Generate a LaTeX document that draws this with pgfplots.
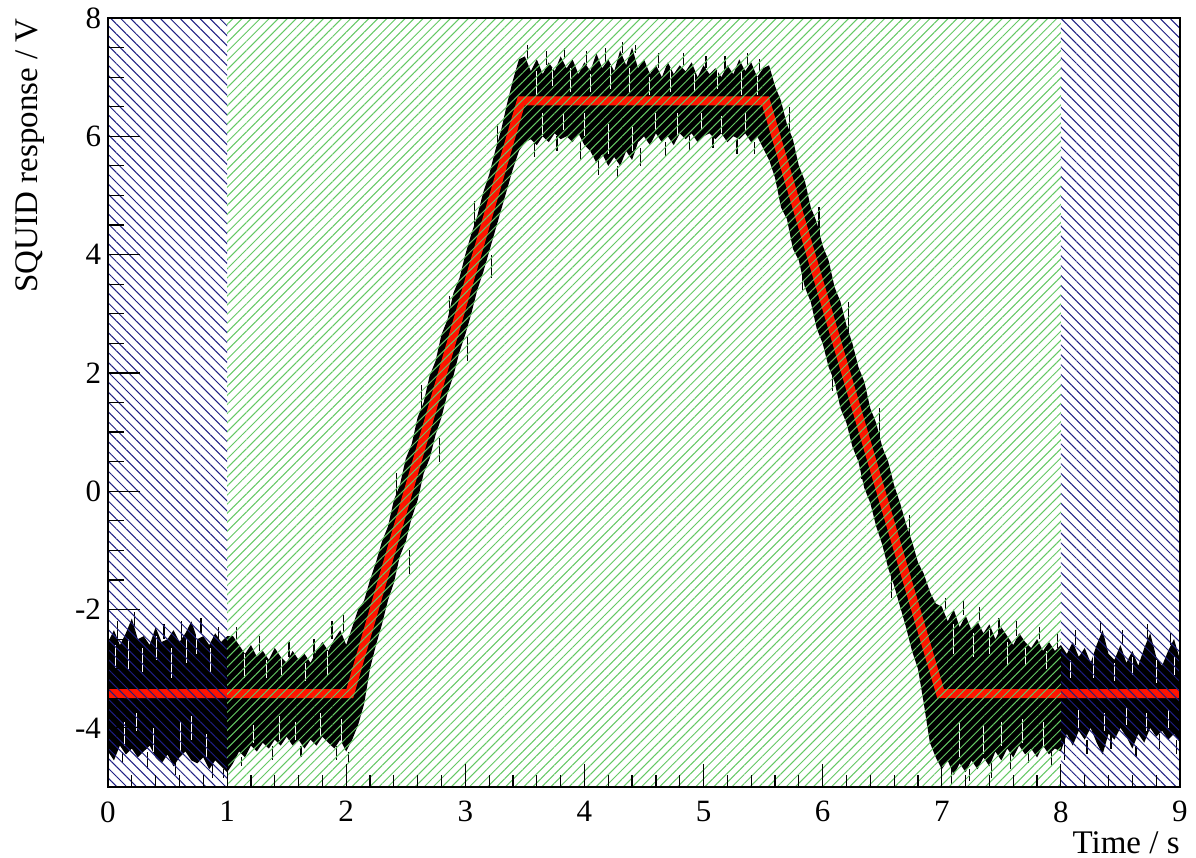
\documentclass[border=0pt]{standalone}
\usepackage{fontspec}
\setmainfont{Liberation Serif}
\usepackage{pgfplots}
\pgfplotsset{compat=1.18}
\usepackage{pgfplotstable}
\usepgfplotslibrary{fillbetween}
\usetikzlibrary{patterns.meta}
\definecolor{hatchblue}{RGB}{30,30,130}
\definecolor{hatchgreen}{RGB}{100,200,100}
\definecolor{fitred}{RGB}{255,20,0}

\pgfplotstableread{
t U L
0.00 -2.55 -4.40
0.05 -2.35 -4.55
0.10 -2.60 -4.30
0.15 -2.40 -4.45
0.20 -2.15 -4.35
0.25 -2.50 -4.50
0.30 -2.45 -4.40
0.35 -2.60 -4.30
0.40 -2.30 -4.50
0.45 -2.55 -4.60
0.50 -2.50 -4.45
0.55 -2.35 -4.65
0.60 -2.55 -4.50
0.65 -2.40 -4.40
0.70 -2.20 -4.55
0.75 -2.50 -4.60
0.80 -2.45 -4.50
0.85 -2.60 -4.70
0.90 -2.40 -4.55
0.95 -2.55 -4.65
1.00 -2.45 -4.75
1.05 -2.45 -4.60
1.10 -2.60 -4.40
1.15 -2.75 -4.50
1.20 -2.60 -4.30
1.25 -2.80 -4.40
1.30 -2.70 -4.25
1.35 -2.85 -4.35
1.40 -2.65 -4.20
1.45 -2.80 -4.30
1.50 -2.90 -4.15
1.55 -2.70 -4.30
1.60 -2.85 -4.20
1.65 -2.75 -4.35
1.70 -2.90 -4.20
1.75 -2.70 -4.30
1.80 -2.55 -4.15
1.85 -2.70 -4.25
1.90 -2.50 -4.35
1.95 -2.35 -4.20
2.00 -2.60 -4.40
2.05 -2.30 -4.20
2.10 -2.00 -3.95
2.15 -1.85 -3.60
2.20 -1.50 -3.00
2.25 -1.20 -2.60
2.30 -0.85 -2.25
2.35 -0.60 -1.85
2.40 -0.15 -1.55
2.45 0.10 -1.10
2.50 0.55 -0.85
2.55 0.80 -0.45
2.60 1.25 -0.15
2.65 1.50 0.30
2.70 1.95 0.55
2.75 2.20 0.95
2.80 2.65 1.25
2.85 2.90 1.65
2.90 3.35 1.95
2.95 3.60 2.35
3.00 4.00 2.65
3.05 4.35 3.00
3.10 4.65 3.40
3.15 5.05 3.70
3.20 5.35 4.05
3.25 5.75 4.40
3.30 6.10 4.75
3.35 6.55 5.10
3.40 6.95 5.45
3.45 7.30 5.75
3.50 7.35 5.90
3.55 7.10 5.95
3.60 7.30 5.85
3.65 7.05 6.00
3.70 7.25 5.90
3.75 7.10 6.05
3.80 7.35 5.95
3.85 7.15 6.00
3.90 7.30 5.90
3.95 7.05 6.05
4.00 7.25 5.85
4.05 7.10 5.75
4.10 7.40 5.55
4.15 7.15 5.70
4.20 7.30 5.50
4.25 7.10 5.65
4.30 7.45 5.50
4.35 7.20 5.75
4.40 7.50 5.60
4.45 7.15 5.90
4.50 7.30 6.00
4.55 7.05 5.85
4.60 7.20 6.05
4.65 7.00 5.90
4.70 7.25 6.00
4.75 7.05 5.85
4.80 7.20 6.05
4.85 7.10 5.95
4.90 7.25 6.05
4.95 7.00 5.90
5.00 7.20 6.00
5.05 7.05 6.05
5.10 7.15 5.95
5.15 7.00 6.05
5.20 7.20 5.90
5.25 7.05 6.00
5.30 7.30 5.95
5.35 7.10 6.05
5.40 7.25 5.90
5.45 7.00 6.00
5.50 7.15 5.80
5.55 7.20 5.60
5.60 6.85 5.30
5.65 6.60 4.80
5.70 6.20 4.60
5.75 5.95 4.10
5.80 5.50 3.90
5.85 5.25 3.45
5.90 4.80 3.20
5.95 4.55 2.75
6.00 4.15 2.50
6.05 3.90 2.10
6.10 3.45 1.85
6.15 3.20 1.40
6.20 2.80 1.15
6.25 2.50 0.75
6.30 2.10 0.50
6.35 1.85 0.05
6.40 1.40 -0.20
6.45 1.15 -0.60
6.50 0.75 -0.90
6.55 0.50 -1.30
6.60 0.10 -1.60
6.65 -0.20 -1.95
6.70 -0.55 -2.30
6.75 -0.85 -2.70
6.80 -1.20 -3.00
6.85 -1.40 -3.60
6.90 -1.70 -4.25
6.95 -1.90 -4.50
7.00 -1.95 -4.70
7.05 -2.20 -4.55
7.10 -2.00 -4.80
7.15 -2.30 -4.60
7.20 -2.10 -4.75
7.25 -2.35 -4.55
7.30 -2.20 -4.70
7.35 -2.40 -4.50
7.40 -2.25 -4.65
7.45 -2.50 -4.40
7.50 -2.30 -4.55
7.55 -2.45 -4.35
7.60 -2.60 -4.50
7.65 -2.40 -4.30
7.70 -2.55 -4.45
7.75 -2.65 -4.35
7.80 -2.50 -4.50
7.85 -2.70 -4.30
7.90 -2.55 -4.45
7.95 -2.70 -4.35
8.00 -2.60 -4.40
8.05 -2.75 -4.10
8.10 -2.55 -4.30
8.15 -2.80 -4.05
8.20 -2.65 -4.20
8.25 -2.90 -4.00
8.30 -2.60 -4.25
8.35 -2.35 -4.45
8.40 -2.75 -4.10
8.45 -2.85 -4.20
8.50 -2.60 -4.00
8.55 -2.90 -4.15
8.60 -2.70 -4.35
8.65 -2.95 -4.10
8.70 -2.65 -4.25
8.75 -2.40 -4.00
8.80 -2.80 -4.15
8.85 -2.95 -4.05
8.90 -2.70 -4.20
8.95 -2.50 -4.10
9.00 -2.85 -4.25
}\datatable

% black error bars sticking out of the band: t, centre, half-length
\pgfplotstableread{
t m e
0.08 -2.35 0.15
0.22 -2.175 0.125
0.47 -2.375 0.125
0.62 -2.35 0.15
0.78 -2.275 0.125
0.93 -2.4 0.1
0.12 -4.5 0.1
0.33 -4.55 0.15
0.57 -4.7 0.1
0.88 -4.725 0.125
0.97 -4.775 0.075
1.08 -2.4 0.1
1.27 -2.575 0.125
1.52 -2.675 0.125
1.73 -2.65 0.15
1.88 -2.35 0.15
1.98 -2.25 0.15
1.12 -4.575 0.075
1.38 -4.425 0.125
1.62 -4.4 0.1
1.92 -4.425 0.125
2.02 -4.5 0.1
2.42 0.0 0.3
2.63 1.5 0.3
2.87 3.05 0.25
3.08 4.6 0.3
3.27 5.9 0.3
2.53 -1.2 0.2
2.78 0.7 0.2
3.02 2.4 0.2
3.22 3.8 0.2
3.52 7.425 0.125
3.68 7.325 0.125
3.83 7.4 0.1
4.02 7.325 0.125
4.18 7.375 0.125
4.32 7.5 0.1
4.43 7.475 0.075
4.62 7.275 0.125
4.83 7.3 0.1
5.02 7.25 0.1
5.18 7.225 0.125
5.37 7.3 0.1
5.47 7.2 0.1
3.58 5.775 0.125
3.77 5.875 0.125
3.97 5.75 0.15
4.12 5.475 0.125
4.28 5.4 0.1
4.47 5.65 0.15
4.68 5.775 0.125
4.88 5.875 0.125
5.08 5.9 0.1
5.28 5.825 0.125
5.43 5.8 0.1
5.72 6.25 0.25
5.97 4.55 0.25
6.22 2.95 0.25
6.48 1.15 0.25
6.73 -0.65 0.25
5.83 3.6 0.2
6.08 1.9 0.2
6.33 0.4 0.2
6.58 -1.6 0.2
7.03 -1.9 0.1
7.18 -1.975 0.125
7.32 -2.075 0.125
7.48 -2.275 0.125
7.63 -2.325 0.125
7.82 -2.4 0.1
7.97 -2.525 0.125
7.08 -4.825 0.125
7.23 -4.8 0.1
7.42 -4.725 0.125
7.58 -4.575 0.125
7.73 -4.5 0.1
7.92 -4.525 0.125
8.12 -2.475 0.125
8.33 -2.3 0.1
8.52 -2.475 0.125
8.73 -2.375 0.125
8.92 -2.5 0.1
8.03 -4.375 0.175
8.22 -4.325 0.125
8.42 -4.225 0.125
8.63 -4.4 0.1
8.83 -4.225 0.125
8.97 -4.325 0.125
}\spikes

% white gaps inside the band: t, centre, half-length
\pgfplotstableread{
t m e
0.06 -2.8 0.2
0.17 -2.75 0.25
0.29 -2.85 0.2
0.41 -2.65 0.2
0.53 -2.9 0.25
0.66 -2.7 0.2
0.74 -2.55 0.2
0.86 -2.85 0.2
0.14 -4.1 0.2
0.38 -4.2 0.2
0.61 -4.15 0.25
0.83 -4.3 0.2
0.24 -3.9 0.15
0.70 -4.0 0.2
1.15 -2.95 0.2
1.33 -3.0 0.15
1.46 -2.95 0.15
1.66 -3.05 0.15
1.84 -2.9 0.2
1.22 -4.1 0.15
1.44 -4.0 0.2
1.57 -4.05 0.15
1.78 -3.95 0.2
1.96 -4.05 0.2
3.60 6.9 0.2
3.73 7.0 0.15
3.88 6.95 0.2
4.05 6.9 0.15
4.22 7.0 0.2
4.38 6.95 0.2
4.55 6.85 0.15
4.72 6.95 0.2
4.92 6.9 0.15
5.12 6.95 0.15
5.32 6.9 0.2
5.45 6.85 0.15
3.65 6.2 0.2
3.82 6.25 0.15
4.00 6.2 0.2
4.20 5.95 0.25
4.40 5.95 0.2
4.60 6.25 0.15
4.78 6.2 0.2
4.98 6.25 0.15
5.15 6.2 0.15
5.35 6.25 0.15
7.10 -2.5 0.25
7.27 -2.6 0.2
7.40 -2.55 0.2
7.55 -2.75 0.2
7.70 -2.8 0.15
7.88 -2.85 0.15
7.15 -4.2 0.3
7.35 -4.2 0.25
7.50 -4.1 0.2
7.68 -4.05 0.2
7.85 -4.1 0.2
8.08 -3.0 0.15
8.27 -2.95 0.2
8.45 -3.05 0.15
8.60 -2.95 0.15
8.80 -3.05 0.2
8.95 -2.95 0.15
8.15 -3.85 0.15
8.37 -3.9 0.15
8.55 -3.8 0.15
8.72 -3.9 0.15
8.90 -3.85 0.15
}\gaps

\begin{document}
\begin{tikzpicture}
\pgfplotsset{
  common/.style={
    at={(54pt,35.5pt)}, anchor=south west,
    scale only axis, width=536pt, height=384.5pt,
    xmin=0, xmax=9, ymin=-5, ymax=8,
    axis line style={line width=0.6pt},
    tick style={black, line width=0.6pt},
    tick align=inside,
    xtick pos=left, ytick pos=left,
    ticklabel style={font=\fontsize{15.5}{18}\selectfont},
  }
}
\begin{axis}[common, axis on top,
  xtick=\empty,
  ytick={-4,-2,0,2,4,6,8}, yticklabels={-4,-2,0,2,4,6,8},
  minor y tick num=3,
  major tick length=16pt, minor tick length=8pt,
  yticklabel style={anchor=east, inner sep=0pt},
  yticklabel shift=3.3pt,
  ylabel={SQUID response / V},
  ylabel style={at={(rel axis cs:-0.0653,1)}, anchor=base east, inner sep=0pt, font=\fontsize{16.5}{20}\selectfont},
  xlabel={Time / s},
  xlabel style={at={(rel axis cs:1,-0.087)}, anchor=base east, inner sep=0pt, font=\fontsize{16.5}{20}\selectfont},
]
\addplot[draw=none, name path=U] table[x=t, y=U]{\datatable};
\addplot[draw=none, name path=L] table[x=t, y=L]{\datatable};
\addplot[fill=black, draw=none] fill between[of=U and L];
\addplot[draw=none, no markers, error bars/.cd, y dir=both, y explicit, error mark=none,
  error bar style={draw=white, line width=0.5pt}] table[x=t, y=m, y error=e]{\gaps};
\addplot[draw=none, no markers, error bars/.cd, y dir=both, y explicit, error mark=none,
  error bar style={draw=black, line width=0.6pt}] table[x=t, y=m, y error=e]{\spikes};
\addplot[fitred, line width=4.5pt, line join=miter] coordinates {(0,-3.42) (2.03,-3.42) (3.47,6.6) (5.52,6.6) (6.99,-3.42) (9,-3.42)};
\addplot[draw=none, pattern={Lines[angle=-45, distance=3.5pt, line width=0.5pt]}, pattern color=hatchblue] coordinates {(0,-5) (1,-5) (1,8) (0,8)} -- cycle;
\addplot[draw=none, pattern={Lines[angle=-45, distance=3.5pt, line width=0.5pt]}, pattern color=hatchblue] coordinates {(8,-5) (9,-5) (9,8) (8,8)} -- cycle;
\addplot[draw=none, pattern={Lines[angle=45, distance=3.2pt, line width=0.5pt]}, pattern color=hatchgreen] coordinates {(1,-5) (8,-5) (8,8) (1,8)} -- cycle;
\end{axis}
\begin{axis}[common,
  ytick=\empty,
  xtick={0,1,2,3,4,5,6,7,8,9}, xticklabels={0,1,2,3,4,5,6,7,8,9},
  minor x tick num=4,
  major tick length=11.5pt, minor tick length=6pt,
  xticklabel style={anchor=north, inner sep=0pt},
  xticklabel shift=7pt,
]
\addplot[draw=none] coordinates {(0,-5) (9,8)};
\end{axis}
\pgfresetboundingbox
\useasboundingbox (0,0) rectangle (598pt,429pt);
\end{tikzpicture}
\end{document}
